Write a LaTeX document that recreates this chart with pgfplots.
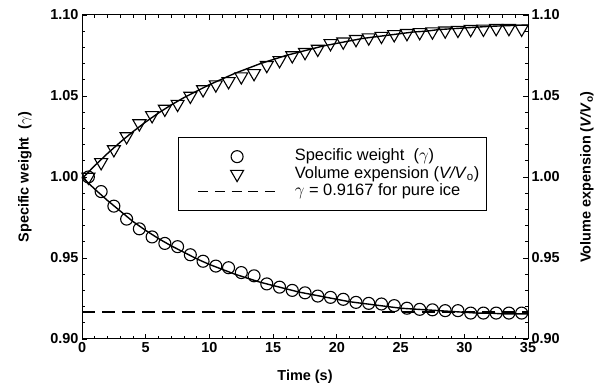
\documentclass[border=0pt]{standalone}
\usepackage{pgfplots}
\pgfplotsset{compat=1.18}
\usepackage{fontspec}
\setmainfont{Liberation Sans}
\pgfplotstableread{
t v
0.5 1.000
1.5 0.991
2.5 0.982
3.5 0.974
4.5 0.968
5.5 0.963
6.5 0.959
7.5 0.957
8.5 0.952
9.5 0.948
10.5 0.945
11.5 0.944
12.5 0.941
13.5 0.939
14.5 0.934
15.5 0.932
16.5 0.930
17.5 0.9285
18.5 0.9265
19.5 0.9257
20.5 0.9245
21.5 0.9226
22.5 0.922
23.5 0.9216
24.5 0.9206
25.5 0.919
26.5 0.9183
27.5 0.918
28.5 0.9175
29.5 0.9175
30.5 0.916
31.5 0.916
32.5 0.916
33.5 0.916
34.5 0.916
}\gammadata
\pgfplotstableread{
t v
0.5 1.000
1.5 1.009
2.5 1.017
3.5 1.025
4.5 1.033
5.5 1.038
6.5 1.042
7.5 1.045
8.5 1.050
9.5 1.054
10.5 1.057
11.5 1.059
12.5 1.062
13.5 1.064
14.5 1.069
15.5 1.072
16.5 1.075
17.5 1.077
18.5 1.079
19.5 1.0825
20.5 1.0835
21.5 1.085
22.5 1.086
23.5 1.087
24.5 1.088
25.5 1.0887
26.5 1.0893
27.5 1.0897
28.5 1.0903
29.5 1.0907
30.5 1.0912
31.5 1.0914
32.5 1.0918
33.5 1.0918
34.5 1.0914
}\voldata
\pgfplotstableread{
t v
0 1.000
1 0.9925
2 0.9855
3 0.979
4 0.9725
5 0.967
6 0.962
7 0.9575
8 0.9535
9 0.9495
10 0.946
11 0.943
12 0.940
13 0.9375
14 0.935
15 0.933
16 0.931
17 0.929
18 0.9275
19 0.926
20 0.9245
21 0.923
22 0.922
23 0.921
24 0.920
25 0.919
26 0.9185
27 0.918
28 0.9175
29 0.917
30 0.9165
31 0.916
32 0.916
33 0.9155
34 0.9155
35 0.9155
}\gammafit
\pgfplotstableread{
t v
0 0.999
1 1.007
2 1.0145
3 1.0215
4 1.028
5 1.034
6 1.0395
7 1.0445
8 1.049
9 1.053
10 1.057
11 1.0605
12 1.064
13 1.067
14 1.070
15 1.0725
16 1.075
17 1.077
18 1.079
19 1.081
20 1.0825
21 1.084
22 1.0855
23 1.0865
24 1.0875
25 1.0885
26 1.0895
27 1.090
28 1.091
29 1.0915
30 1.092
31 1.0925
32 1.093
33 1.0933
34 1.0936
35 1.0938
}\volfit
\begin{document}
\begin{tikzpicture}
\pgfplotsset{
  common/.style={
    width=446bp, height=324bp, scale only axis,
    xmin=0, xmax=35, ymin=0.90, ymax=1.10,
    xtick={0,5,...,35}, ytick={0.90,0.95,1.00,1.05,1.10},
    minor x tick num=4, minor y tick num=4,
    tick align=inside,
    major tick length=5bp, minor tick length=3bp,
    tick style={black, line width=0.8bp},
    axis line style={line width=1bp},
    /pgf/number format/assume math mode=true,
    yticklabel style={/pgf/number format/.cd, fixed, fixed zerofill, precision=2},
    ticklabel style={font=\fontsize{14.5}{16}\selectfont\bfseries},
    clip=false,
  },
  mkimg/.style={legend image code/.code={\path (0bp,0bp); \draw[mark repeat=2,mark phase=2] plot coordinates {(12bp,0bp) (51bp,0bp) (90bp,0bp)};}},
}
\begin{axis}[common,
  ytick pos=left,
  xlabel={Time (s)},
  ylabel={Specific weight\ \ ($\gamma$)},
  every axis x label/.style={at={(axis description cs:0.5,-0.116)}, anchor=center, font=\fontsize{14.5}{16}\selectfont\bfseries},
  every axis y label/.style={at={(axis description cs:-0.128,0.5)}, rotate=90, anchor=center, font=\fontsize{14.5}{16}\selectfont\bfseries},
  legend cell align=left,
  legend style={at={(0.215,0.623)}, anchor=north west, draw=black, line width=1bp,
    font=\fontsize{16.5}{18}\selectfont, row sep=1.5bp, column sep=18bp,
    nodes={inner sep=0bp, text height=12bp, text depth=4bp},
    inner xsep=7bp, inner ysep=11bp},
]
\path (axis description cs:-0.1839,1.0463) rectangle (axis description cs:1.1726,-0.1574);
\addplot[only marks, mark=o, mark size=6bp, mark options={line width=1.1bp}, mkimg] table[x=t,y=v] {\gammadata};
\addlegendentry{Specific weight\ \ ($\gamma$)}
\addplot[only marks, mark=triangle, mark size=7.5bp, mark options={rotate=180, line width=1.1bp}, mkimg] table[x=t,y=v] {\voldata};
\addlegendentry{Volume expension (\textit{V/V}\textsubscript{o})}
\addplot[black, line width=1.4bp, dash pattern=on 13bp off 7bp,
  legend image code/.code={\path (0bp,0bp); \draw[dash pattern=on 10bp off 6.7bp] (12bp,0bp) -- (90bp,0bp);}] coordinates {(0,0.9167) (35,0.9167)};
\addlegendentry{$\gamma$ = 0.9167 for pure ice}
\addplot[black, line width=1.4bp, forget plot] table[x=t,y=v] {\gammafit};
\addplot[black, line width=1.4bp, forget plot] table[x=t,y=v] {\volfit};
\end{axis}
\begin{axis}[common,
  axis x line=none,
  axis y line*=right,
  ylabel={Volume expension (\textit{V/V}\textsubscript{o})},
  every axis y label/.style={at={(axis description cs:1.132,0.5)}, rotate=90, anchor=center, font=\fontsize{14.5}{16}\selectfont\bfseries},
]
\end{axis}
\end{tikzpicture}
\end{document}
